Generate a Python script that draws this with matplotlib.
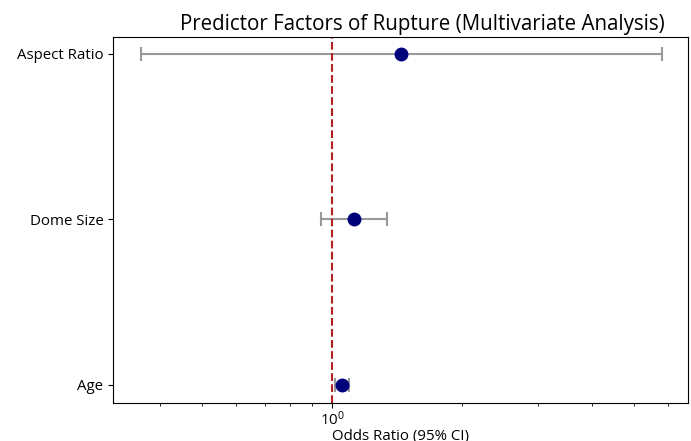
import numpy as np
import matplotlib.pyplot as plt

plt.rcParams['font.family'] = ['Open Sans', 'DejaVu Sans']

# Data (odds ratios with 95% CI)
factors = ['Age', 'Dome Size', 'Aspect Ratio']
odds_ratio = [1.053, 1.124, 1.445]
ci_low = [1.016, 0.942, 0.361]
ci_high = [1.094, 1.34, 5.8]

fig = plt.figure(figsize=(6.91, 4.41), dpi=100)
ax = fig.add_axes([0.1635, 0.086, 0.832, 0.83])

y = np.arange(len(factors))
or_arr = np.array(odds_ratio)
err = [or_arr - np.array(ci_low), np.array(ci_high) - or_arr]

ax.errorbar(odds_ratio, y, xerr=err, fmt='o', color='#00007a', markersize=9,
            ecolor='#999999', elinewidth=1.5, capsize=5, capthick=1.5)
ax.axvline(1, color='#b22222', linestyle='--', linewidth=1.5)

ax.set_xscale('log')
ax.set_xlim(0.311, 6.67)
ax.set_ylim(-0.11, 2.1)
ax.set_yticks(y)
ax.set_yticklabels(factors, fontsize=10.8)
ax.tick_params(axis='x', labelsize=10.8, pad=1.5)

ax.set_xlabel('Odds Ratio (95% CI)', fontsize=10.8, labelpad=0)
ax.set_title('Predictor Factors of Rupture (Multivariate Analysis)', fontsize=14.8,
             pad=5, x=0.538)

fig.savefig('out.png', dpi=100)
